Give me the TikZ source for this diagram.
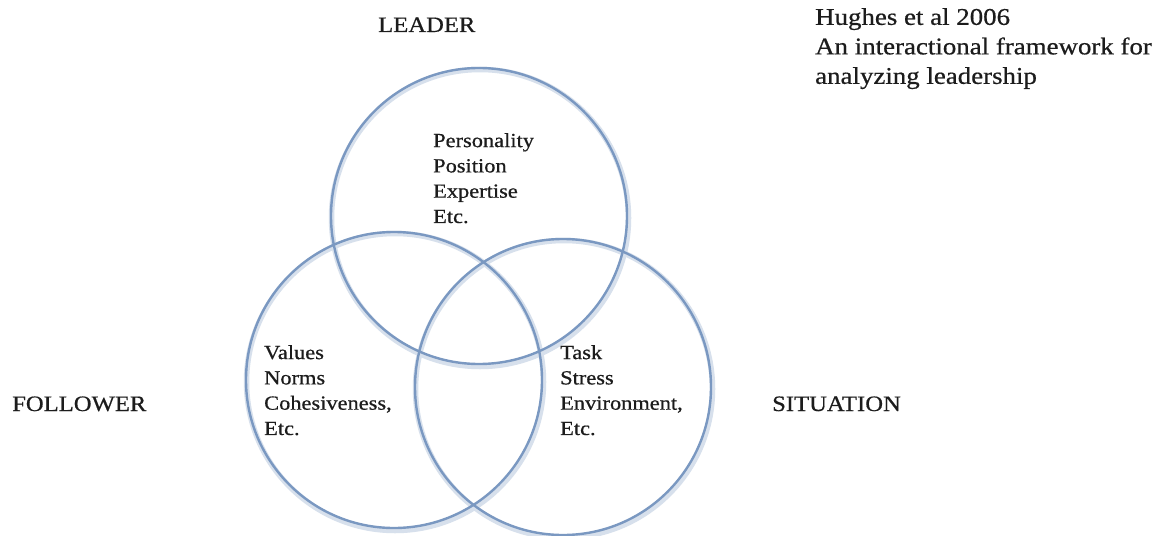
\documentclass[tikz,border=0pt]{standalone}
\usepackage{fontspec}
\setmainfont{Liberation Serif}[FakeStretch=1.12,FakeBold=0.6]
\begin{document}
\begin{tikzpicture}[x=1pt,y=-1pt,
  ring/.style={circle, draw=ringblue, line width=2.4pt, inner sep=0pt, minimum size=296pt},
  halo/.style={circle, draw=ringblue!30, line width=5.5pt, inner sep=0pt, minimum size=297pt},
  heading/.style={anchor=base west, inner sep=0pt, text=inkgray, font=\fontsize{22}{26}\selectfont},
  factors/.style={anchor=north west, inner sep=0pt, text=inkgray, align=left, font=\fontsize{20}{25.3}\selectfont},
  source/.style={anchor=north west, inner sep=0pt, text=inkgray, align=left, font=\fontsize{24}{29.5}\selectfont}]
\definecolor{ringblue}{RGB}{122,152,193}
\definecolor{inkgray}{RGB}{28,28,28}
\useasboundingbox (0,0) rectangle (1166,535);
\fill[white] (0,0) rectangle (1166,535);

% soft shadow under the three rings
\node[halo] at (480,218) {};
\node[halo] at (395,382) {};
\node[halo] at (564,389) {};

% the three rings
\node[ring] (leaderring) at (479,216) {};
\node[ring] (followerring) at (394,380) {};
\node[ring] (situationring) at (563,387) {};

% headings
\node[heading] (leader) at (378,32) {LEADER};
\node[heading] (follower) at (12,411) {FOLLOWER};
\node[heading] (situation) at (772,411) {SITUATION};

% source note
\node[source] (note) at (815,8) {Hughes et al 2006\\An interactional framework for\\analyzing leadership};

% factors inside each ring
\node[factors] (leaderlist) at (433,133) {Personality\\Position\\Expertise\\Etc.};
\node[factors] (followerlist) at (264,345) {Values\\Norms\\Cohesiveness,\\Etc.};
\node[factors] (situationlist) at (560,345) {Task\\Stress\\Environment,\\Etc.};
\end{tikzpicture}
\end{document}
